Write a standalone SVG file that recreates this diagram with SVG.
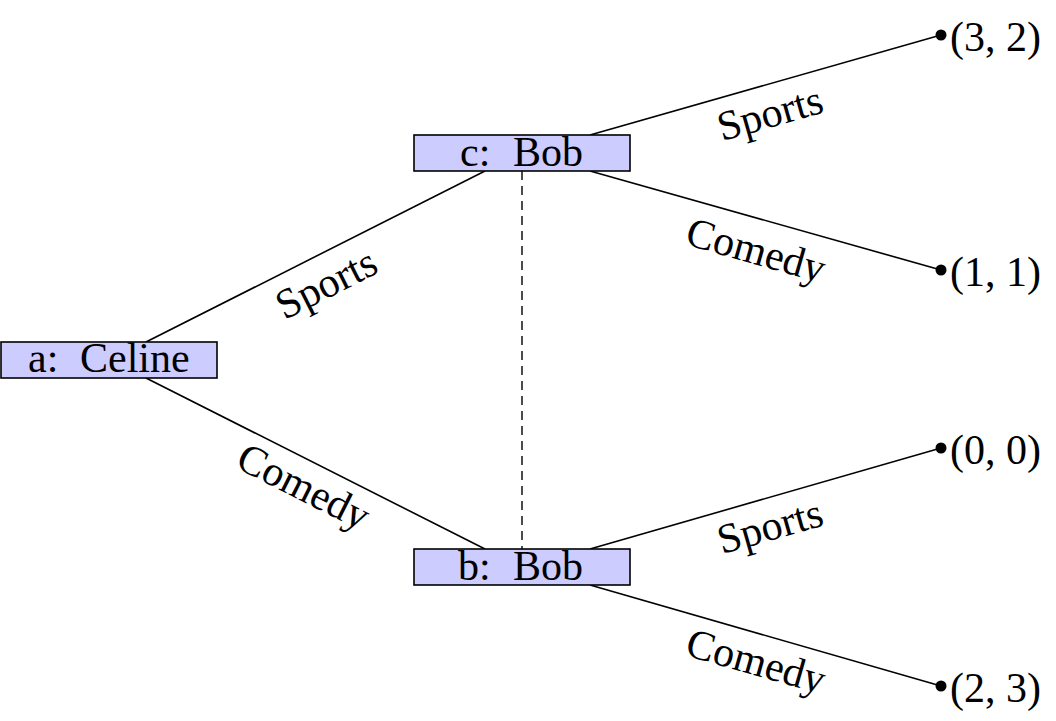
<svg xmlns="http://www.w3.org/2000/svg" width="1056" height="721" viewBox="0 0 1056 721">
<style>
.box{fill:#ccccff;stroke:#000;stroke-width:1.6}
.t{font-family:"Liberation Serif","DejaVu Serif",serif;font-size:42px;fill:#000}
.m{text-anchor:middle}
.e{stroke:#000;stroke-width:1.6;fill:none}
.d{stroke:#000;stroke-width:1.4;stroke-dasharray:9 6;fill:none}
</style>
<rect width="1056" height="721" fill="#fff"/>
<g id="connectors">
<line class="e" x1="146" y1="342" x2="485" y2="171"/>
<line class="e" x1="146" y1="378" x2="485" y2="549"/>
<line class="e" x1="590" y1="135" x2="941" y2="35"/>
<line class="e" x1="590" y1="171" x2="941" y2="270"/>
<line class="e" x1="590" y1="549" x2="941" y2="448"/>
<line class="e" x1="590" y1="585" x2="941" y2="686"/>
<line class="d" x1="522" y1="171" x2="522" y2="549"/>
<text class="t m" transform="translate(328,287) rotate(-26.8)" y="10">Sports</text>
<text class="t m" transform="translate(302,490) rotate(26.8)" y="10">Comedy</text>
<text class="t m" transform="translate(771,117) rotate(-15.9)" y="10">Sports</text>
<text class="t m" transform="translate(755,254) rotate(15.9)" y="10">Comedy</text>
<text class="t m" transform="translate(771,530) rotate(-15.9)" y="10">Sports</text>
<text class="t m" transform="translate(755,665) rotate(15.9)" y="10">Comedy</text>
</g>
<g id="node-a">
<rect class="box" x="1" y="342" width="216" height="36"/>
<text class="t" y="372"><tspan x="28">a:</tspan><tspan x="80">Celine</tspan></text>
</g>
<g id="node-c">
<rect class="box" x="414" y="135" width="216" height="36"/>
<text class="t" y="166"><tspan x="460">c:</tspan><tspan x="513">Bob</tspan></text>
</g>
<g id="node-b">
<rect class="box" x="414" y="549" width="216" height="36"/>
<text class="t" y="580"><tspan x="458">b:</tspan><tspan x="513">Bob</tspan></text>
</g>
<g id="leaf-32">
<circle cx="941" cy="35" r="5.5"/>
<text class="t" x="950" y="51">(3, 2)</text>
</g>
<g id="leaf-11">
<circle cx="941" cy="270" r="5.5"/>
<text class="t" x="950" y="286">(1, 1)</text>
</g>
<g id="leaf-00">
<circle cx="941" cy="448" r="5.5"/>
<text class="t" x="950" y="464">(0, 0)</text>
</g>
<g id="leaf-23">
<circle cx="941" cy="686" r="5.5"/>
<text class="t" x="950" y="702">(2, 3)</text>
</g>
</svg>
